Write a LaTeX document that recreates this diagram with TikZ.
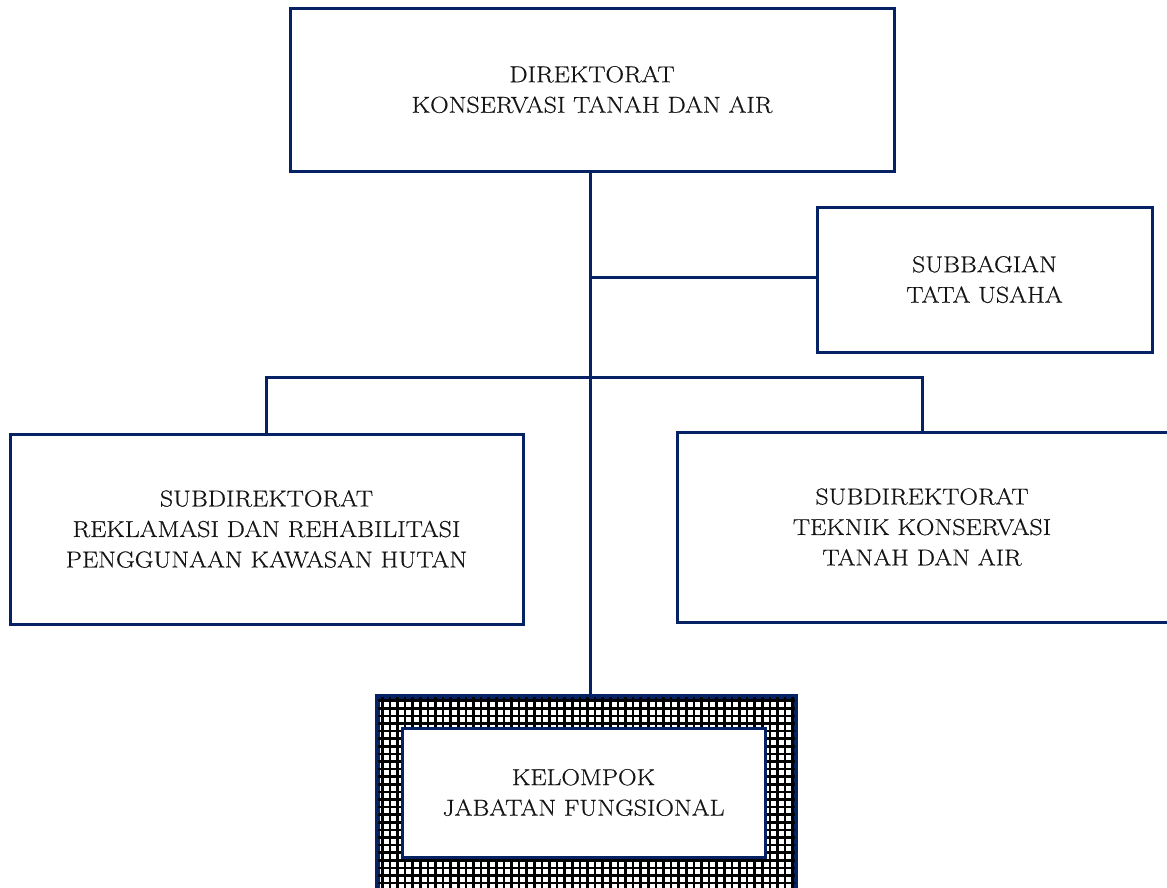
\documentclass[tikz,border=0pt]{standalone}
\usepackage{fontspec}
\setmainfont{Latin Modern Roman}[FakeStretch=1.12,FakeBold=0.5]
\definecolor{navy}{RGB}{5,35,100}
\tikzset{
  box/.style={draw=navy, line width=3pt, fill=white, align=center, inner sep=0pt,
    font=\fontsize{23}{30.5}\selectfont, text=black!92},
  conn/.style={draw=navy, line width=3pt}
}
\begin{document}
\begin{tikzpicture}[x=1pt,y=-1pt]
\useasboundingbox (0,0) rectangle (1167,887);
\clip (0,0) rectangle (1167,887);
\fill[white] (0,0) rectangle (1167,887);
% nodes
\node[box, minimum width=604pt, minimum height=163pt] (dir) at (592,89.5) {DIREKTORAT\\KONSERVASI TANAH DAN AIR};
\node[box, minimum width=335pt, minimum height=145pt] (sub) at (984.5,279.5) {SUBBAGIAN\\TATA USAHA};
\node[box, minimum width=513pt, minimum height=190pt] (left) at (266.5,529) {SUBDIREKTORAT\\REKLAMASI DAN REHABILITASI\\PENGGUNAAN KAWASAN HUTAN};
\node[box, minimum width=500pt, minimum height=190pt] (right) at (927,527) {\hspace*{-10pt}SUBDIREKTORAT\\\hspace*{-10pt}TEKNIK KONSERVASI\\\hspace*{-10pt}TANAH DAN AIR};
% hatched outer box
\node[draw=navy, line width=3pt, minimum width=417pt, minimum height=200pt, inner sep=0pt] (outer) at (586.5,797) {};
\begin{scope}
\clip (outer.south west) rectangle (outer.north east);
\foreach \i in {0,...,56} {
  \draw[black, line width=2.5pt] ({382.3+7.6*\i},690) -- ({382.3+7.6*\i},900);
}
\foreach \j in {0,...,26} {
  \draw[black, line width=2.5pt] (370,{700.7+7.6*\j}) -- (800,{700.7+7.6*\j});
}
\end{scope}
\draw[navy, line width=3pt] (outer.south west) rectangle (outer.north east);
\node[box, minimum width=363pt, minimum height=129pt] (fung) at (583.5,792.5) {KELOMPOK\\JABATAN FUNGSIONAL};
% connectors
\coordinate (t) at (590,277);
\coordinate (j) at (590,377);
\draw[conn] (dir.south -| t) -- (outer.north -| t);
\draw[conn] (t) -- (t -| sub.west);
\draw[conn] (left.north) -- (left.north |- j) -- (922,377) -- (922,432);
\end{tikzpicture}
\end{document}
